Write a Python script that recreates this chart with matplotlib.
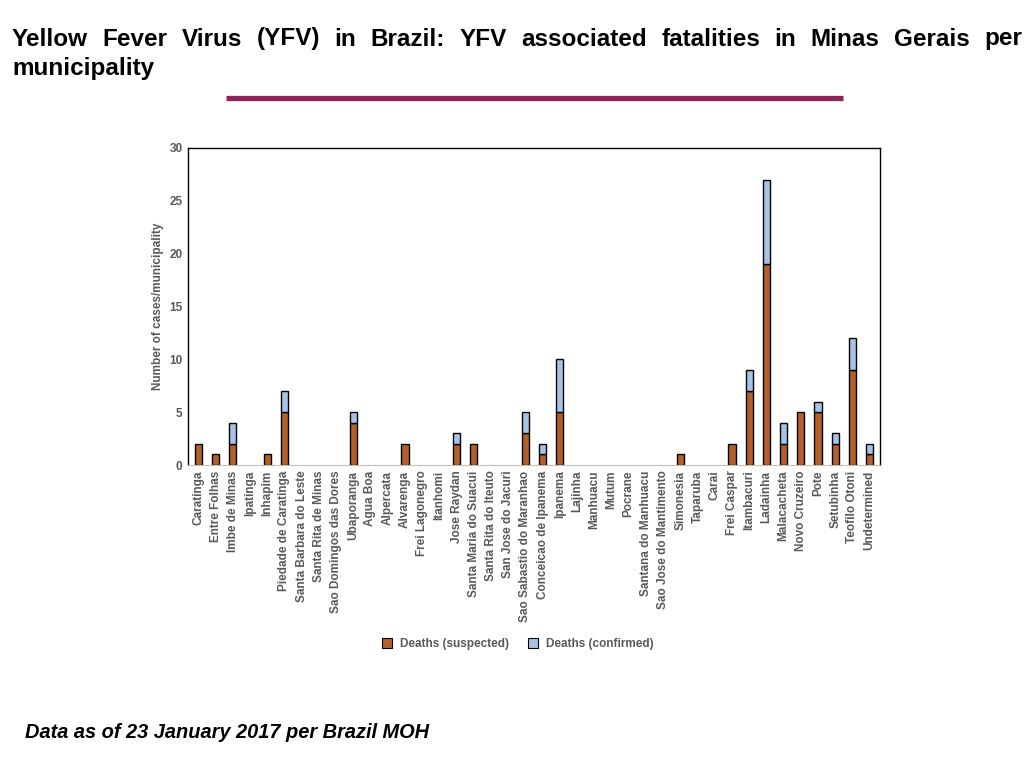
import numpy as np
import matplotlib
matplotlib.use("Agg")
import matplotlib.pyplot as plt
from matplotlib.lines import Line2D

plt.rcParams['font.family'] = ['Liberation Sans', 'DejaVu Sans']

municipalities = [
    'Caratinga', 'Entre Folhas', 'Imbe de Minas', 'Ipatinga', 'Inhapim',
    'Piedade de Caratinga', 'Santa Barbara do Leste', 'Santa Rita de Minas',
    'Sao Domingos das Dores', 'Ubaporanga', 'Agua Boa', 'Alpercata',
    'Alvarenga', 'Frei Lagonegro', 'Itanhomi', 'Jose Raydan',
    'Santa Maria do Suacui', 'Santa Rita do Iteuto', 'San Jose do Jacuri',
    'Sao Sabastio do Maranhao', 'Conceicao de Ipanema', 'Ipanema', 'Lajinha',
    'Manhuacu', 'Mutum', 'Pocrane', 'Santana do Manhuacu',
    'Sao Jose do Mantimento', 'Simonesia', 'Taparuba', 'Carai', 'Frei Caspar',
    'Itambacuri', 'Ladainha', 'Malacacheta', 'Novo Cruzeiro', 'Pote',
    'Setubinha', 'Teofilo Otoni', 'Undetermined',
]
suspected = [2, 1, 2, 0, 1, 5, 0, 0, 0, 4, 0, 0, 2, 0, 0, 2, 2, 0, 0, 3,
             1, 5, 0, 0, 0, 0, 0, 0, 1, 0, 0, 2, 7, 19, 2, 5, 5, 2, 9, 1]
confirmed = [0, 0, 2, 0, 0, 2, 0, 0, 0, 1, 0, 0, 0, 0, 0, 1, 0, 0, 0, 2,
             1, 5, 0, 0, 0, 0, 0, 0, 0, 0, 0, 0, 2, 8, 2, 0, 1, 1, 3, 1]

brown = '#B5602B'
blue = '#A7C2E2'
gray = '#595959'

fig = plt.figure(figsize=(10.24, 7.68), dpi=100)
ax = fig.add_axes([0.1836, 0.3945, 0.6758, 0.4128])

x = np.arange(len(municipalities))
# no outline on empty bars
lw_s = [1 if v > 0 else 0 for v in suspected]
lw_c = [1 if v > 0 else 0 for v in confirmed]
ax.bar(x, suspected, width=0.42, color=brown, edgecolor='black', linewidth=lw_s)
ax.bar(x, confirmed, width=0.42, bottom=suspected, color=blue,
       edgecolor='black', linewidth=lw_c)

ax.set_xlim(-0.6, len(municipalities) - 0.4)
ax.set_ylim(0, 30)
ax.set_yticks(range(0, 31, 5))
ax.set_xticks(x)
ax.set_xticklabels(municipalities, rotation=90, fontsize=8.5,
                   fontweight='bold', color=gray)
ax.tick_params(axis='both', length=0, pad=4)
for lbl in ax.get_yticklabels():
    lbl.set_fontsize(8.5)
    lbl.set_fontweight('bold')
    lbl.set_color(gray)
ax.set_ylabel('Number of cases/municipality', fontsize=8.5,
              fontweight='bold', color=gray, labelpad=4)
for s in ['top', 'right', 'left']:
    ax.spines[s].set_color('black')
    ax.spines[s].set_linewidth(1)
ax.spines['bottom'].set_color('#BFBFBF')

handles = [
    Line2D([], [], marker='s', linestyle='none', markersize=7,
           markerfacecolor=brown, markeredgecolor='black', markeredgewidth=0.8),
    Line2D([], [], marker='s', linestyle='none', markersize=7,
           markerfacecolor=blue, markeredgecolor='black', markeredgewidth=0.8),
]
leg = fig.legend(handles, ['Deaths (suspected)', 'Deaths (confirmed)'],
                 loc='center', bbox_to_anchor=(0.5025, 0.161), ncol=2,
                 frameon=False, handletextpad=0.1, columnspacing=1.0,
                 prop={'size': 8.5, 'weight': 'bold'})
for t in leg.get_texts():
    t.set_color(gray)

# justified title line
title1 = 'Yellow Fever Virus (YFV) in Brazil: YFV associated fatalities in Minas Gerais per'
words = title1.split()
renderer = fig.canvas.get_renderer()
left_px, right_px, y1 = 12, 1022, 768 - 39
objs = [fig.text(0, y1 / 768, w, fontsize=17.5, fontweight='bold',
                 va='center', ha='left') for w in words]
widths = [o.get_window_extent(renderer).width for o in objs]
gap = (right_px - left_px - sum(widths)) / (len(words) - 1)
pos = left_px
for o, w in zip(objs, widths):
    o.set_x(pos / 1024)
    pos += w + gap
fig.text(12 / 1024, 1 - 68 / 768, 'municipality', fontsize=17.5,
         fontweight='bold', va='center', ha='left')

fig.add_artist(Line2D([226 / 1024, 843 / 1024], [1 - 98 / 768, 1 - 98 / 768],
                      color='#8B2457', linewidth=3.8, solid_capstyle='butt'))

fig.text(25 / 1024, 1 - 733 / 768, 'Data as of 23 January 2017 per Brazil MOH',
         fontsize=14.4, fontweight='bold', fontstyle='italic', va='center')

fig.savefig('out.png', dpi=100)
